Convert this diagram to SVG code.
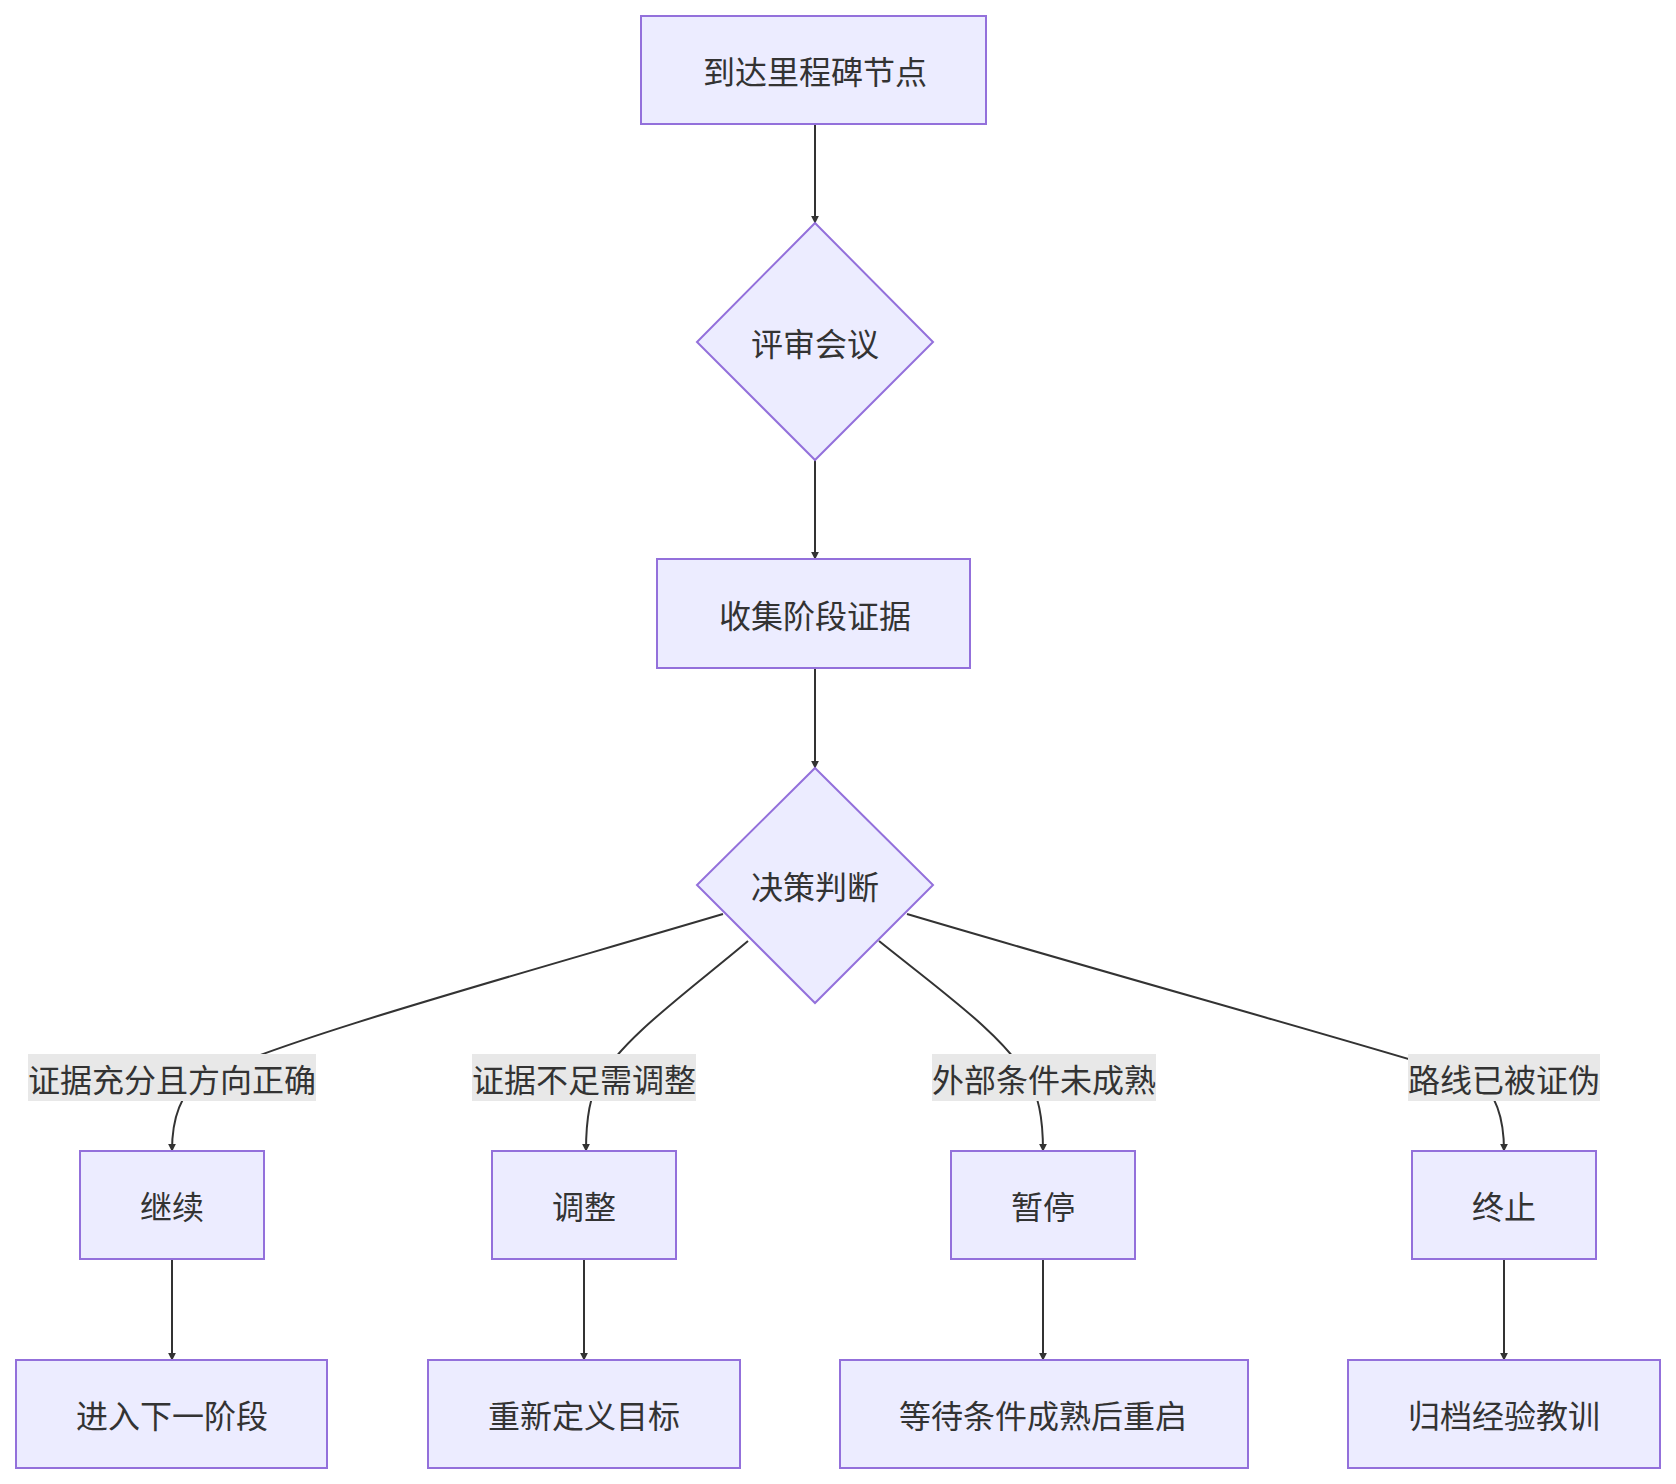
<svg xmlns="http://www.w3.org/2000/svg" width="1676" height="1484" viewBox="0 0 1676 1484">
<style>
.n{fill:#ECECFF;stroke:#9370DB;stroke-width:2}
.t{font-family:"Noto Sans CJK SC","Liberation Sans",sans-serif;font-size:32px;fill:#333;text-anchor:middle;dominant-baseline:central}
.e{fill:none;stroke:#333;stroke-width:2;marker-end:url(#a)}
.lb{fill:#e8e8e8}
</style>
<defs><marker id="a" viewBox="0 0 10 10" refX="9" refY="5" markerWidth="8" markerHeight="8" markerUnits="userSpaceOnUse" orient="auto"><path d="M0,0L10,5L0,10z" fill="#333"/></marker></defs>
<rect width="1676" height="1484" fill="#fff"/>
<g id="edges">
<path class="e" d="M815,124V223"/>
<path class="e" d="M815,460V559"/>
<path class="e" d="M815,668V768"/>
<path class="e" d="M723,914C500,980 280,1040 200,1080Q172,1100 172,1151"/>
<path class="e" d="M748,941C690,990 620,1040 600,1080Q586,1100 586,1151"/>
<path class="e" d="M879,941C940,990 1010,1040 1028,1080Q1043,1100 1043,1151"/>
<path class="e" d="M907,914C1130,980 1350,1040 1478,1080Q1504,1100 1504,1151"/>
<path class="e" d="M172,1259V1360"/>
<path class="e" d="M584,1259V1360"/>
<path class="e" d="M1043,1259V1360"/>
<path class="e" d="M1504,1259V1360"/>
</g>
<g id="labels">
<rect class="lb" x="28" y="1054" width="288" height="47"/><text class="t" x="172" y="1078">证据充分且方向正确</text>
<rect class="lb" x="472" y="1054" width="224" height="47"/><text class="t" x="584" y="1078">证据不足需调整</text>
<rect class="lb" x="932" y="1054" width="224" height="47"/><text class="t" x="1044" y="1078">外部条件未成熟</text>
<rect class="lb" x="1408" y="1054" width="192" height="47"/><text class="t" x="1504" y="1078">路线已被证伪</text>
</g>
<g id="n1"><rect class="n" x="641" y="16" width="345" height="108"/><text class="t" x="815" y="70">到达里程碑节点</text></g>
<g id="n2"><path class="n" d="M815,223L933,342L815,460L697,342Z"/><text class="t" x="815" y="342">评审会议</text></g>
<g id="n3"><rect class="n" x="657" y="559" width="313" height="109"/><text class="t" x="815" y="614">收集阶段证据</text></g>
<g id="n4"><path class="n" d="M815,768L933,885L815,1003L697,885Z"/><text class="t" x="815" y="885">决策判断</text></g>
<g id="n5"><rect class="n" x="80" y="1151" width="184" height="108"/><text class="t" x="172" y="1205">继续</text></g>
<g id="n6"><rect class="n" x="492" y="1151" width="184" height="108"/><text class="t" x="584" y="1205">调整</text></g>
<g id="n7"><rect class="n" x="951" y="1151" width="184" height="108"/><text class="t" x="1043" y="1205">暂停</text></g>
<g id="n8"><rect class="n" x="1412" y="1151" width="184" height="108"/><text class="t" x="1504" y="1205">终止</text></g>
<g id="n9"><rect class="n" x="16" y="1360" width="311" height="108"/><text class="t" x="172" y="1414">进入下一阶段</text></g>
<g id="n10"><rect class="n" x="428" y="1360" width="312" height="108"/><text class="t" x="584" y="1414">重新定义目标</text></g>
<g id="n11"><rect class="n" x="840" y="1360" width="408" height="108"/><text class="t" x="1043" y="1414">等待条件成熟后重启</text></g>
<g id="n12"><rect class="n" x="1348" y="1360" width="312" height="108"/><text class="t" x="1504" y="1414">归档经验教训</text></g>
</svg>
